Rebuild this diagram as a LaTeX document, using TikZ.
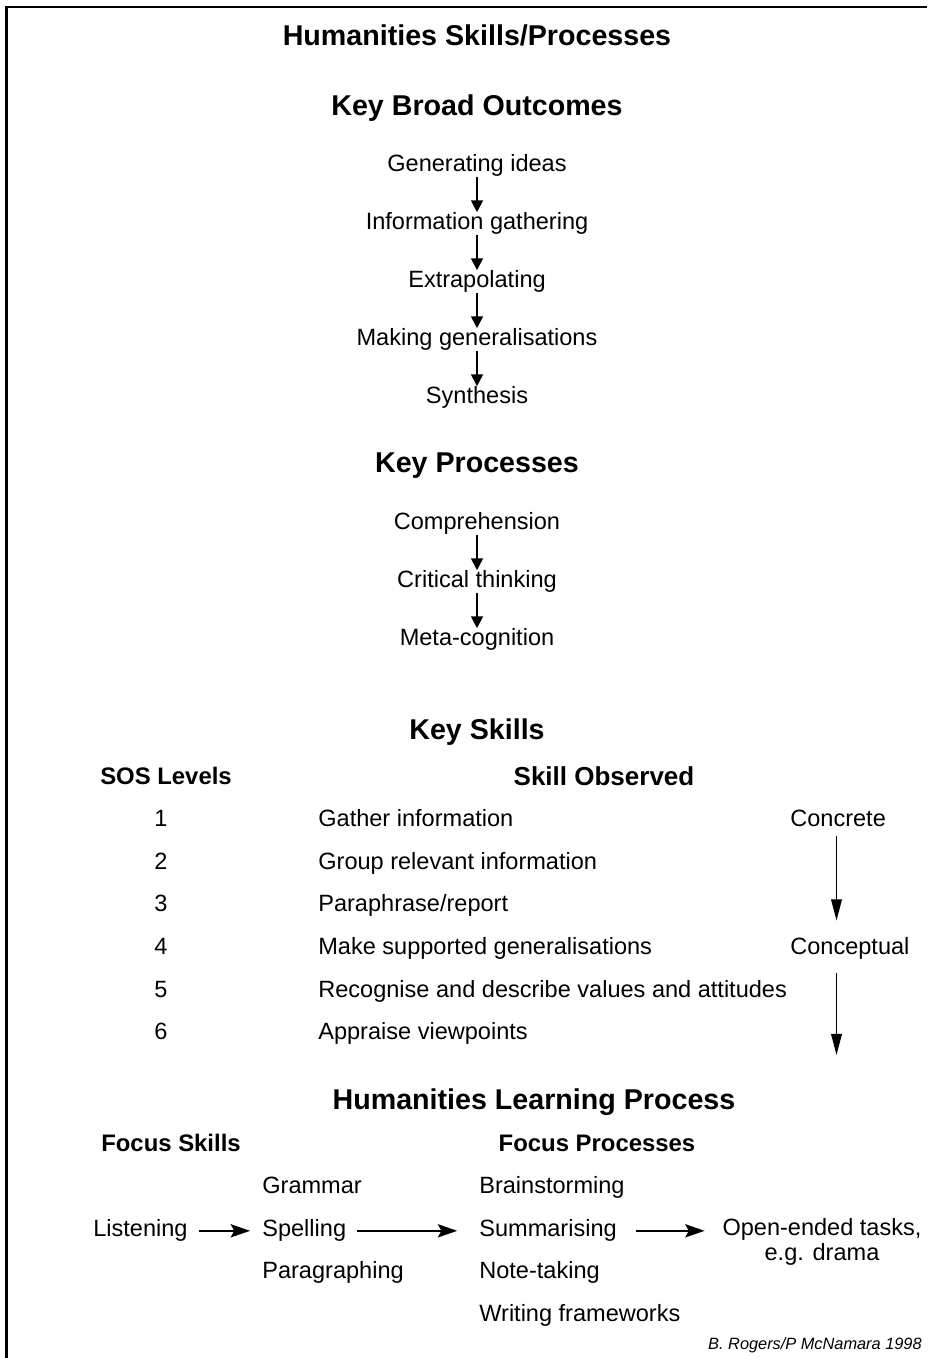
\documentclass[tikz,border=0pt]{standalone}
\usepackage{fontspec}
\setmainfont{Liberation Sans}
\usetikzlibrary{arrows.meta, calc}

\begin{document}
\begin{tikzpicture}[x=0.02cm, y=-0.02cm,
      head/.style={font=\fontsize{16.3}{19}\selectfont\bfseries},
      sub/.style={font=\fontsize{13.6}{16}\selectfont\bfseries},
      item/.style={font=\fontsize{13.4}{14}\selectfont, inner sep=0pt, text height=9.8pt, text depth=3pt, yshift=-1.6pt},
      down/.style={-{Triangle[length=6.8pt,width=6.8pt]}, line width=1.1pt},
      longdown/.style={-{Triangle[length=12pt,width=6pt]}, line width=1.1pt},
      across/.style={-{Stealth[length=11pt,width=7.5pt,inset=2pt]}, line width=1.2pt, shorten <=6.2pt, shorten >=6.8pt}]
      \useasboundingbox (0,0) rectangle (927,1358);
      % Frame
      \draw[line width=1.2pt] (927,7) -- (6.5,7) -- (6.5,1358);
      % Headings
      \node[head] (title) at (477,35) {Humanities Skills/Processes};
      \node[head] (broad) at (477,108) {Key Broad Outcomes};
      \node[head] (keyproc) at (477,466) {Key Processes};
      \node[head] (keyskills) at (477,732) {Key Skills};
      \node[head] (learning) at (534,1102) {Humanities Learning Process};
      % Key broad outcomes
      \node[item] (gen) at (477,163) {Generating ideas};
      \node[item] (info) at (477,221) {Information gathering};
      \node[item] (extra) at (477,279) {Extrapolating};
      \node[item] (makgen) at (477,337) {Making generalisations};
      \node[item] (synth) at (477,395) {Synthesis};
      % Key processes
      \node[item] (compr) at (477,521) {Comprehension};
      \node[item] (crit) at (477,579) {Critical thinking};
      \node[item] (meta) at (477,637) {Meta-cognition};
      \foreach \a/\b in {gen/info, info/extra, extra/makgen, makgen/synth, compr/crit, crit/meta}
         \draw[down] (\a) -- (\b);
      % Key skills table
      \node[sub] (soslev) at (166,776) {SOS Levels};
      \node[sub, font=\fontsize{14.8}{16}\selectfont\bfseries] (observed) at (604,776) {Skill Observed};
      \foreach \n/\y/\s in {1/818/{Gather information}, 2/861/{Group relevant information},
            3/903/{Paraphrase/report}, 4/946/{Make supported generalisations},
            5/989/{Recognise and describe values and attitudes}, 6/1031/{Appraise viewpoints}} {
         \node[item] (lev\n) at (161,\y) {\n};
         \node[item, anchor=west] (skill\n) at (318,\y) {\s};
      }
      \node[item, anchor=west] (concrete) at (790,818) {Concrete};
      \node[item, anchor=west] (conceptual) at (790,946) {Conceptual};
      \coordinate (levend) at (836.5,1055);
      \draw[longdown, shorten <=2pt, shorten >=9.5pt] (levend |- concrete.south) -- (levend |- conceptual.north);
      \draw[longdown, shorten <=7pt] (levend |- conceptual.south) -- (levend);
      % Learning process
      \node[sub] (fskills) at (171,1143) {Focus Skills};
      \node[sub] (fproc) at (597,1143) {Focus Processes};
      \node[item, anchor=west] (listen) at (93,1228) {Listening};
      \node[item, anchor=west] (grammar) at (262,1185) {Grammar};
      \node[item, anchor=west] (spell) at (262,1228) {Spelling};
      \node[item, anchor=west] (para) at (262,1270) {Paragraphing};
      \node[item, anchor=west] (brain) at (479,1185) {Brainstorming};
      \node[item, anchor=west] (summ) at (479,1228) {Summarising};
      \node[item, anchor=west] (notes) at (479,1270) {Note-taking};
      \node[item, anchor=west] (frames) at (479,1313) {Writing frameworks};
      \node[font=\fontsize{13.4}{13.8}\selectfont, align=center, inner sep=0pt] (open) at (822,1242) {Open-ended tasks,\\e.g. drama};
      \draw[across] (listen) -- (spell);
      \draw[across, shorten >=12.4pt] (spell) -- (summ);
      \draw[across, shorten <=11pt, shorten >=10pt] (summ) -- (summ -| open.west);
      % Credit
      \node[font=\fontsize{9.3}{11}\selectfont\itshape, anchor=east, inner sep=0pt] (credit) at (922,1345) {B. Rogers/P McNamara 1998};
   \end{tikzpicture}
\end{document}
